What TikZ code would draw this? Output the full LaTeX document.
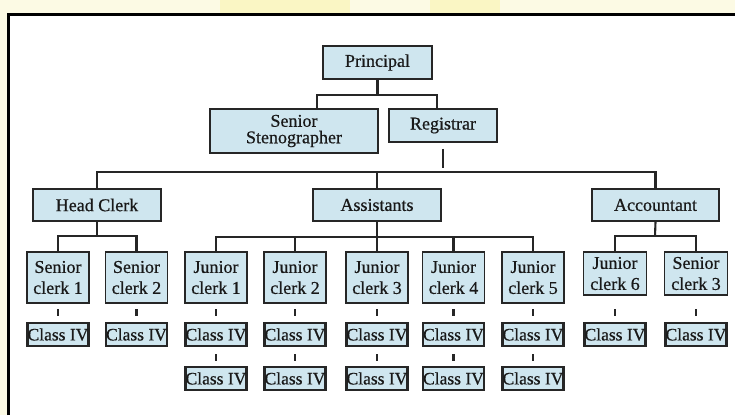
\documentclass[tikz,border=0pt]{standalone}
\usepackage{fontspec}
\setmainfont{Liberation Serif}
\newfontfamily\inkfont{Liberation Serif}[FakeBold=0.6]
\definecolor{boxfill}{RGB}{207,230,239}
\definecolor{boxline}{RGB}{38,38,38}
\definecolor{paleyellow}{RGB}{252,250,228}
\definecolor{midyellow}{RGB}{250,246,196}
\tikzset{
  orgbox/.style={draw=boxline, line width=1.9pt, fill=boxfill, inner sep=0pt,
    align=center, text=black!90, font=\inkfont\fontsize{18}{21}\selectfont},
  lvbox/.style={orgbox, minimum width=62pt, minimum height=51pt},
  lvshort/.style={orgbox, minimum width=63pt, minimum height=43pt},
  classbox/.style={orgbox, line width=2.3pt, minimum width=61pt, minimum height=23pt,
    font=\inkfont\fontsize{17.5}{17}\selectfont},
  link/.style={draw=boxline, line width=2.1pt},
  tickmark/.style={draw=boxline, line width=2.2pt},
}
\begin{document}
\begin{tikzpicture}[x=1pt,y=-1pt]
\useasboundingbox (0,0) rectangle (735,415);
% background and frame
\fill[white] (0,0) rectangle (735,415);
\fill[paleyellow] (0,0) rectangle (735,14);
\fill[midyellow] (220,0) rectangle (350,14);
\fill[midyellow] (430,0) rectangle (500,14);
\fill[paleyellow] (0,0) rectangle (8,415);
\draw[line width=2.6pt, black] (8.5,415) -- (8.5,14.5) -- (735,14.5);

% level 0 and 1
\node[orgbox, minimum width=109pt, minimum height=33pt] (prin) at (377.5,62.5) {Principal};
\node[orgbox, minimum width=168pt, minimum height=44pt, font=\inkfont\fontsize{18}{16.5}\selectfont] (ss) at (294,131) {Senior\\Stenographer};
\node[orgbox, minimum width=108pt, minimum height=33pt] (reg) at (443,125.5) {Registrar};

% level 2
\node[orgbox, minimum width=128pt, minimum height=32pt] (hc) at (97,205) {Head Clerk};
\node[orgbox, minimum width=128pt, minimum height=32pt] (ast) at (377,205) {Assistants};
\node[orgbox, minimum width=127pt, minimum height=32pt] (acc) at (655.5,205) {Accountant};

% level 3
\node[lvbox] (sc1) at (58,277.5) {Senior\\clerk 1};
\node[lvbox] (sc2) at (136.5,277.5) {Senior\\clerk 2};
\node[lvbox] (j1) at (216,277.5) {Junior\\clerk 1};
\node[lvbox] (j2) at (295,277.5) {Junior\\clerk 2};
\node[lvbox] (j3) at (377,277.5) {Junior\\clerk 3};
\node[lvbox] (j4) at (453.5,277.5) {Junior\\clerk 4};
\node[lvbox] (j5) at (533,277.5) {Junior\\clerk 5};
\node[lvshort] (j6) at (615,273.5) {Junior\\clerk 6};
\node[lvshort] (sc3) at (696,273.5) {Senior\\clerk 3};

% class IV rows
\foreach \n/\x in {sc1/58, sc2/136.5, j1/216, j2/295, j3/377, j4/453.5, j5/533, j6/615, sc3/696}{
  \node[classbox] (c\n) at (\x,334.5) {Class IV};
  \draw[tickmark] ([yshift=6pt]c\n.north) -- ([yshift=13pt]c\n.north);
}
\foreach \n/\x in {j1/216, j2/295, j3/377, j4/453.5, j5/533}{
  \node[classbox] (d\n) at (\x,378.5) {Class IV};
  \draw[tickmark] ([yshift=5pt]d\n.north) -- ([yshift=12pt]d\n.north);
}

% connectors
\coordinate (pb) at (377.5,95);
\draw[link] (prin.south) -- (pb);
\draw[link] ([xshift=23pt]ss.north) |- (pb) -| ([xshift=-6pt]reg.north);
\draw[link, line width=2.8pt] ([yshift=-6pt]reg.south) -- ([yshift=-25pt]reg.south);

\coordinate (b2) at (377,172);
\draw[link] (hc.north) |- (b2) -| (acc.north);
\draw[link] (ast.north) -- (b2);

\coordinate (hcb) at (97,236);
\draw[link] (hc.south) -- (hcb);
\draw[link] (sc1.north) |- (hcb) -| (sc2.north);

\coordinate (asb) at (377,237);
\draw[link] (ast.south) -- (asb);
\draw[link] (j1.north) |- (asb) -| (j5.north);
\draw[link] (j2.north) -- (j2.north |- asb);
\draw[link] (j3.north) -- (asb);
\draw[link] (j4.north) -- (j4.north |- asb);

\coordinate (acb) at (655,236);
\draw[link] (acc.south) -- (acb);
\draw[link] (j6.north) |- (acb) -| (sc3.north);
\end{tikzpicture}
\end{document}
